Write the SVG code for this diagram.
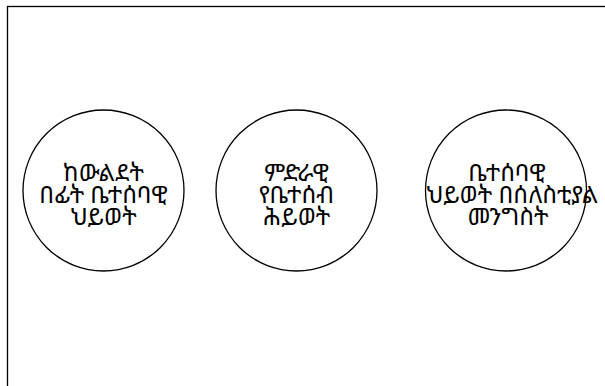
<svg xmlns="http://www.w3.org/2000/svg" width="605" height="386" viewBox="0 0 605 386">
<style>
.frame{fill:none;stroke:#000;stroke-width:1.3}
.node circle{fill:#fff;stroke:#000;stroke-width:1.3}
.node text{font-family:"Noto Sans Ethiopic","Noto Serif Ethiopic",sans-serif;font-size:24px;text-anchor:middle;fill:#000}
</style>
<rect width="605" height="386" fill="#fff"/>
<rect class="frame" x="7.5" y="6.5" width="620" height="400"/>
<g id="connectors"></g>
<g id="n1" class="node">
<circle cx="103.5" cy="190.5" r="80.5"/>
<text x="103.5" y="181">ከውልደት</text>
<text x="103.5" y="203">በፊት ቤተሰባዊ</text>
<text x="103.5" y="225">ህይወት</text>
</g>
<g id="n2" class="node">
<circle cx="296.5" cy="190.5" r="80.5"/>
<text x="296.5" y="181">ምድራዊ</text>
<text x="296.5" y="203">የቤተሰብ</text>
<text x="296.5" y="225">ሕይወት</text>
</g>
<g id="n3" class="node">
<circle cx="506" cy="190.5" r="80.5"/>
<text x="507" y="181">ቤተሰባዊ</text>
<text x="512" y="203">ህይወት በሰለስቲያል</text>
<text x="508" y="225">መንግስት</text>
</g>
</svg>
